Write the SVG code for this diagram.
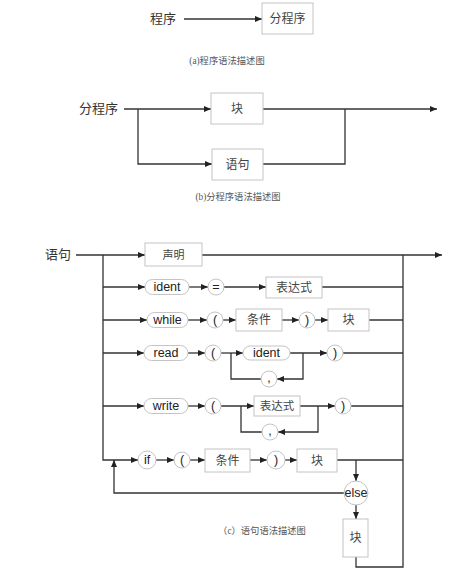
<svg xmlns="http://www.w3.org/2000/svg" width="462" height="575" viewBox="0 0 462 575">
<defs>
<marker id="ah" markerUnits="userSpaceOnUse" markerWidth="7" markerHeight="6" refX="7" refY="3" orient="auto">
<path d="M0,0 L7,3 L0,6 z" fill="#222"/>
</marker>
<style>
.ln{fill:none;stroke:#333;stroke-width:1.3}
.bx{fill:#fff;stroke:#c4c4c4;stroke-width:1}
.pl{fill:#fff;stroke:#c4c4c4;stroke-width:1}
.cj{font-family:"Liberation Serif","Noto Sans CJK SC",serif;fill:#444;text-anchor:middle;dominant-baseline:central}
.lb{font-family:"Liberation Serif","Noto Sans CJK SC",serif;fill:#333;dominant-baseline:central}
.sn{font-family:"Liberation Sans",Arial,sans-serif;fill:#222;text-anchor:middle;dominant-baseline:central;font-size:12.5px}
.cap{font-family:"Liberation Serif","Noto Sans CJK SC",serif;fill:#555;text-anchor:middle;font-size:9.3px;dominant-baseline:central}
</style>
</defs>

<g id="connectors">
<!-- (a) -->
<path class="ln" d="M184,19 H262" marker-end="url(#ah)"/>
<!-- (b) -->
<path class="ln" d="M124,109 H211" marker-end="url(#ah)"/>
<path class="ln" d="M138,109 V164 H212" marker-end="url(#ah)"/>
<path class="ln" d="M263,109 H437" marker-end="url(#ah)"/>
<path class="ln" d="M263,164 H345 V109"/>
<!-- (c) main -->
<path class="ln" d="M76,255 H145" marker-end="url(#ah)"/>
<path class="ln" d="M202,255 H442" marker-end="url(#ah)"/>
<path class="ln" d="M103,255 V460 H138" marker-end="url(#ah)"/>
<path class="ln" d="M403,255 V567 H356 V557"/>
<!-- ident row -->
<path class="ln" d="M103,287 H145" marker-end="url(#ah)"/>
<path class="ln" d="M189,287 H208" marker-end="url(#ah)"/>
<path class="ln" d="M224,287 H266" marker-end="url(#ah)"/>
<path class="ln" d="M322,287 H403"/>
<!-- while row -->
<path class="ln" d="M103,320 H147" marker-end="url(#ah)"/>
<path class="ln" d="M188,320 H207" marker-end="url(#ah)"/>
<path class="ln" d="M223,320 H236" marker-end="url(#ah)"/>
<path class="ln" d="M282,320 H299" marker-end="url(#ah)"/>
<path class="ln" d="M315,320 H328" marker-end="url(#ah)"/>
<path class="ln" d="M369,320 H403"/>
<!-- read row -->
<path class="ln" d="M103,353 H144" marker-end="url(#ah)"/>
<path class="ln" d="M188,353 H205" marker-end="url(#ah)"/>
<path class="ln" d="M221,353 H243" marker-end="url(#ah)"/>
<path class="ln" d="M290,353 H327" marker-end="url(#ah)"/>
<path class="ln" d="M343,353 H403"/>
<path class="ln" d="M303,353 V379 H277" marker-end="url(#ah)"/>
<path class="ln" d="M261,379 H231 V353"/>
<!-- write row -->
<path class="ln" d="M103,406 H144" marker-end="url(#ah)"/>
<path class="ln" d="M188,406 H205" marker-end="url(#ah)"/>
<path class="ln" d="M221,406 H254" marker-end="url(#ah)"/>
<path class="ln" d="M300,406 H335" marker-end="url(#ah)"/>
<path class="ln" d="M351,406 H403"/>
<path class="ln" d="M318,406 V432 H278" marker-end="url(#ah)"/>
<path class="ln" d="M262,432 H241 V406"/>
<!-- if row -->
<path class="ln" d="M156,460 H174" marker-end="url(#ah)"/>
<path class="ln" d="M190,460 H205" marker-end="url(#ah)"/>
<path class="ln" d="M250,460 H267" marker-end="url(#ah)"/>
<path class="ln" d="M285,460 H297" marker-end="url(#ah)"/>
<path class="ln" d="M337,460 H403"/>
<path class="ln" d="M356,460 V481" marker-end="url(#ah)"/>
<path class="ln" d="M356,504.5 V519" marker-end="url(#ah)"/>
<path class="ln" d="M344,493 H114 V460" marker-end="url(#ah)"/>
</g>

<!-- (a) -->
<g id="a-program"><text class="lb" x="150" y="18" font-size="13">程序</text></g>
<g id="a-subprogram"><rect class="bx" x="262" y="3" width="51" height="31"/><text class="cj" x="287.5" y="18.5" font-size="12">分程序</text></g>
<g id="cap-a"><text class="cap" x="227" y="61">(a)程序语法描述图</text></g>

<!-- (b) -->
<g id="b-subprogram"><text class="lb" x="79" y="108" font-size="13">分程序</text></g>
<g id="b-block"><rect class="bx" x="211" y="93" width="52" height="31"/><text class="cj" x="237" y="108.5" font-size="12">块</text></g>
<g id="b-stmt"><rect class="bx" x="212" y="149" width="51" height="31"/><text class="cj" x="237.5" y="164.5" font-size="12">语句</text></g>
<g id="cap-b"><text class="cap" x="238" y="197">(b)分程序语法描述图</text></g>

<!-- (c) -->
<g id="c-stmt"><text class="lb" x="45" y="254" font-size="13">语句</text></g>
<g id="c-decl"><rect class="bx" x="145" y="243" width="57" height="23"/><text class="cj" x="173.5" y="254.5" font-size="11">声明</text></g>

<g id="c-ident"><rect class="pl" x="145" y="279.5" width="44" height="15" rx="7.5"/><text class="sn" x="167" y="287">ident</text></g>
<g id="c-eq"><circle class="pl" cx="216" cy="287" r="8"/><text class="sn" x="216" y="287" font-size="11">=</text></g>
<g id="c-expr1"><rect class="bx" x="266" y="277" width="56" height="21"/><text class="cj" x="294" y="287.5" font-size="12">表达式</text></g>

<g id="c-while"><rect class="pl" x="147" y="312.5" width="41" height="15" rx="7.5"/><text class="sn" x="167.5" y="320">while</text></g>
<g id="c-lp1"><circle class="pl" cx="215" cy="320" r="8"/><text class="sn" x="215" y="320">(</text></g>
<g id="c-cond1"><rect class="bx" x="236" y="309" width="46" height="22"/><text class="cj" x="259" y="320" font-size="12">条件</text></g>
<g id="c-rp1"><circle class="pl" cx="307" cy="320" r="8"/><text class="sn" x="307" y="320">)</text></g>
<g id="c-block1"><rect class="bx" x="328" y="309" width="41" height="22"/><text class="cj" x="348.5" y="320" font-size="12">块</text></g>

<g id="c-read"><rect class="pl" x="144" y="345.5" width="44" height="15" rx="7.5"/><text class="sn" x="166" y="353">read</text></g>
<g id="c-lp2"><circle class="pl" cx="213" cy="353" r="8"/><text class="sn" x="213" y="353">(</text></g>
<g id="c-ident2"><rect class="pl" x="243" y="346" width="47" height="14" rx="7"/><text class="sn" x="266.5" y="353">ident</text></g>
<g id="c-comma1"><circle class="pl" cx="269" cy="379" r="8"/><text class="sn" x="269" y="378">,</text></g>
<g id="c-rp2"><circle class="pl" cx="335" cy="353" r="8"/><text class="sn" x="335" y="353">)</text></g>

<g id="c-write"><rect class="pl" x="144" y="398.5" width="44" height="15" rx="7.5"/><text class="sn" x="166" y="406">write</text></g>
<g id="c-lp3"><circle class="pl" cx="213" cy="406" r="8"/><text class="sn" x="213" y="406">(</text></g>
<g id="c-expr2"><rect class="bx" x="254" y="396" width="46" height="20"/><text class="cj" x="277" y="406" font-size="11.5">表达式</text></g>
<g id="c-comma2"><circle class="pl" cx="270" cy="432" r="8"/><text class="sn" x="270" y="431">,</text></g>
<g id="c-rp3"><circle class="pl" cx="343" cy="406" r="8"/><text class="sn" x="343" y="406">)</text></g>

<g id="c-if"><circle class="pl" cx="147" cy="460" r="9"/><text class="sn" x="147" y="460">if</text></g>
<g id="c-lp4"><circle class="pl" cx="182" cy="460" r="8"/><text class="sn" x="182" y="460">(</text></g>
<g id="c-cond2"><rect class="bx" x="205" y="449" width="45" height="23"/><text class="cj" x="227.5" y="460.5" font-size="12">条件</text></g>
<g id="c-rp4"><circle class="pl" cx="276" cy="460" r="9"/><text class="sn" x="276" y="460">)</text></g>
<g id="c-block2"><rect class="bx" x="297" y="449" width="40" height="23"/><text class="cj" x="317" y="460.5" font-size="12">块</text></g>
<g id="c-else"><circle class="pl" cx="356" cy="493" r="12"/><text class="sn" x="356" y="493" font-size="9.5">else</text></g>
<g id="c-block3"><rect class="bx" x="343" y="519" width="25" height="38"/><text class="cj" x="355.5" y="538" font-size="12">块</text></g>
<g id="cap-c"><text class="cap" x="262" y="531">（c）语句语法描述图</text></g>
</svg>
